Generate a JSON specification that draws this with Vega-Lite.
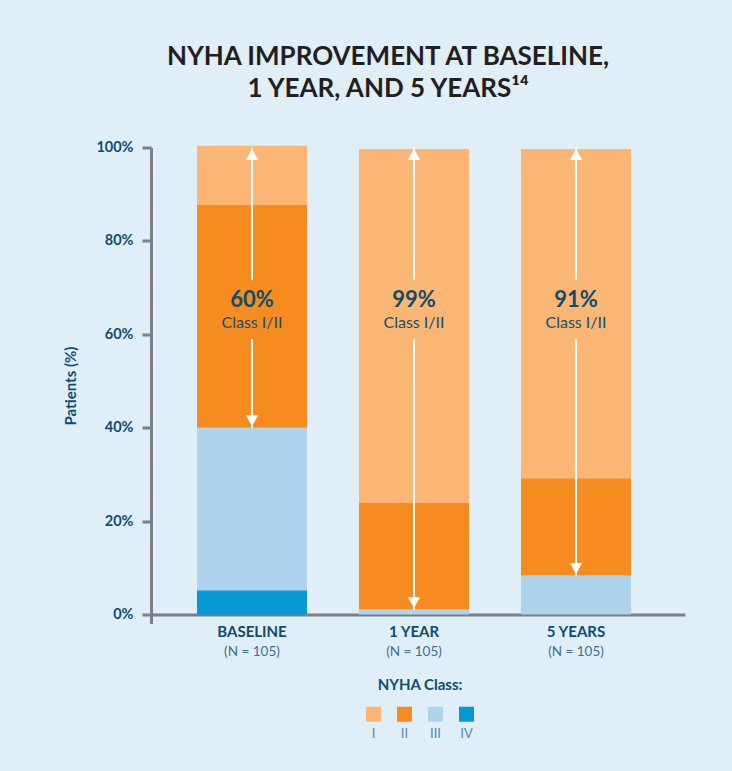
{
  "$schema": "https://vega.github.io/schema/vega-lite/v6.json",
  "width": 534,
  "height": 476,
  "autosize": {"type": "none"},
  "padding": {"left": 151, "top": 147.5, "right": 47, "bottom": 147.5},
  "background": "#e0eef8",
  "title": {
    "text": ["NYHA IMPROVEMENT AT BASELINE,", "1 YEAR, AND 5 YEARS¹⁴"],
    "font": "Lato",
    "fontSize": 26,
    "fontWeight": "bold",
    "color": "#231f20",
    "anchor": "middle",
    "dx": -30,
    "offset": 38,
    "lineHeight": 32
  },
  "config": {"view": {"stroke": null}},
  "datasets": {
    "bars": [
      {"period": "BASELINE", "cls": "IV", "pct": 5.2},
      {"period": "BASELINE", "cls": "III", "pct": 34.8},
      {"period": "BASELINE", "cls": "II", "pct": 47.7},
      {"period": "BASELINE", "cls": "I", "pct": 12.7},
      {"period": "1 YEAR", "cls": "IV", "pct": 0},
      {"period": "1 YEAR", "cls": "III", "pct": 1.1},
      {"period": "1 YEAR", "cls": "II", "pct": 22.8},
      {"period": "1 YEAR", "cls": "I", "pct": 75.8},
      {"period": "5 YEARS", "cls": "IV", "pct": 0},
      {"period": "5 YEARS", "cls": "III", "pct": 8.4},
      {"period": "5 YEARS", "cls": "II", "pct": 20.8},
      {"period": "5 YEARS", "cls": "I", "pct": 70.5}
    ],
    "arrows": [
      {"period": "BASELINE", "label": "60%", "sub": "Class I/II", "n": "(N = 105)", "low": 40},
      {"period": "1 YEAR", "label": "99%", "sub": "Class I/II", "n": "(N = 105)", "low": 1.1},
      {"period": "5 YEARS", "label": "91%", "sub": "Class I/II", "n": "(N = 105)", "low": 8.4}
    ]
  },
  "encoding": {
    "x": {
      "field": "period", "type": "nominal", "title": null,
      "scale": {"domain": ["BASELINE", "1 YEAR", "5 YEARS"], "paddingInner": 0.321, "paddingOuter": 0.3086, "align": 0.46},
      "axis": {
        "labelAngle": 0, "ticks": false, "offset": -8.9,
        "domainColor": "#7b7f84", "domainWidth": 3,
        "labelFont": "Lato", "labelFontSize": 15, "labelFontWeight": "bold", "labelColor": "#0f4c6d",
        "labelPadding": 10
      }
    }
  },
  "layer": [
    {
      "data": {"name": "bars"},
      "mark": {"type": "bar"},
      "encoding": {
        "y": {
          "field": "pct", "type": "quantitative", "stack": "zero", "title": "Patients (%)",
          "scale": {"domain": [-1.9, 100], "nice": false, "zero": false},
          "axis": {
            "values": [0, 20, 40, 60, 80, 100],
            "labelExpr": "datum.value + '%'", "grid": false,
            "domainColor": "#7b7f84", "domainWidth": 3, "tickColor": "#7b7f84", "tickWidth": 3, "tickSize": 9,
            "labelFont": "Lato", "labelFontSize": 14.5, "labelFontWeight": "bold", "labelColor": "#0f4c6d", "labelPadding": 9,
            "titleFont": "Lato", "titleFontSize": 15, "titleFontWeight": "bold", "titleColor": "#0f4c6d", "titlePadding": 17
          }
        },
        "color": {
          "field": "cls", "type": "nominal",
          "scale": {"domain": ["I", "II", "III", "IV"], "range": ["#fbb574", "#f68c20", "#aed3ed", "#0798d5"]},
          "legend": {
            "title": "NYHA Class:", "orient": "none", "legendX": 215, "legendY": 530,
            "direction": "horizontal", "symbolType": "square", "symbolSize": 225, "symbolStrokeWidth": 0,
            "columnPadding": 16, "labelAlign": "center", "labelOffset": -7.5,
            "labelFont": "Lato", "labelFontSize": 13, "labelColor": "#5a88a6",
            "titleFont": "Lato", "titleFontSize": 15, "titleFontWeight": "bold", "titleColor": "#0f4c6d",
            "titleAnchor": "middle", "titlePadding": 14, "padding": 0,
            "encode": {"labels": {"update": {"dy": {"value": 20}}}}
          }
        },
        "order": {"field": "cls", "type": "nominal", "sort": "descending"}
      }
    },
    {
      "data": {"name": "arrows"},
      "mark": {"type": "rule", "color": "#ffffff", "strokeWidth": 2},
      "encoding": {
        "y": {"datum": 100, "type": "quantitative", "title": "Patients (%)"},
        "y2": {"datum": 71.6}
      }
    },
    {
      "data": {"name": "arrows"},
      "mark": {"type": "rule", "color": "#ffffff", "strokeWidth": 2},
      "encoding": {
        "y": {"field": "low", "type": "quantitative", "title": "Patients (%)"},
        "y2": {"datum": 59}
      }
    },
    {
      "data": {"name": "arrows"},
      "mark": {"type": "point", "shape": "triangle-up", "filled": true, "color": "#ffffff", "opacity": 1, "size": 156, "yOffset": 7},
      "encoding": {
        "y": {"datum": 100, "type": "quantitative", "title": "Patients (%)"}
      }
    },
    {
      "data": {"name": "arrows"},
      "mark": {"type": "point", "shape": "triangle-down", "filled": true, "color": "#ffffff", "opacity": 1, "size": 156, "yOffset": -7},
      "encoding": {
        "y": {"field": "low", "type": "quantitative", "title": "Patients (%)"}
      }
    },
    {
      "data": {"name": "arrows"},
      "mark": {"type": "text", "font": "Lato", "fontSize": 22, "fontWeight": "bold", "color": "#0f4c6d", "baseline": "alphabetic", "align": "center"},
      "encoding": {
        "y": {"datum": 65.8, "type": "quantitative", "title": "Patients (%)"},
        "text": {"field": "label", "type": "nominal"}
      }
    },
    {
      "data": {"name": "arrows"},
      "mark": {"type": "text", "font": "Lato", "fontSize": 16, "color": "#164f70", "baseline": "alphabetic", "align": "center"},
      "encoding": {
        "y": {"datum": 61.3, "type": "quantitative", "title": "Patients (%)"},
        "text": {"field": "sub", "type": "nominal"}
      }
    },
    {
      "data": {"name": "arrows"},
      "mark": {"type": "text", "font": "Lato", "fontSize": 13.5, "color": "#3f6f8f", "baseline": "middle", "align": "center", "dy": 37},
      "encoding": {
        "y": {"datum": 0, "type": "quantitative", "title": "Patients (%)"},
        "text": {"field": "n", "type": "nominal"}
      }
    }
  ]
}
